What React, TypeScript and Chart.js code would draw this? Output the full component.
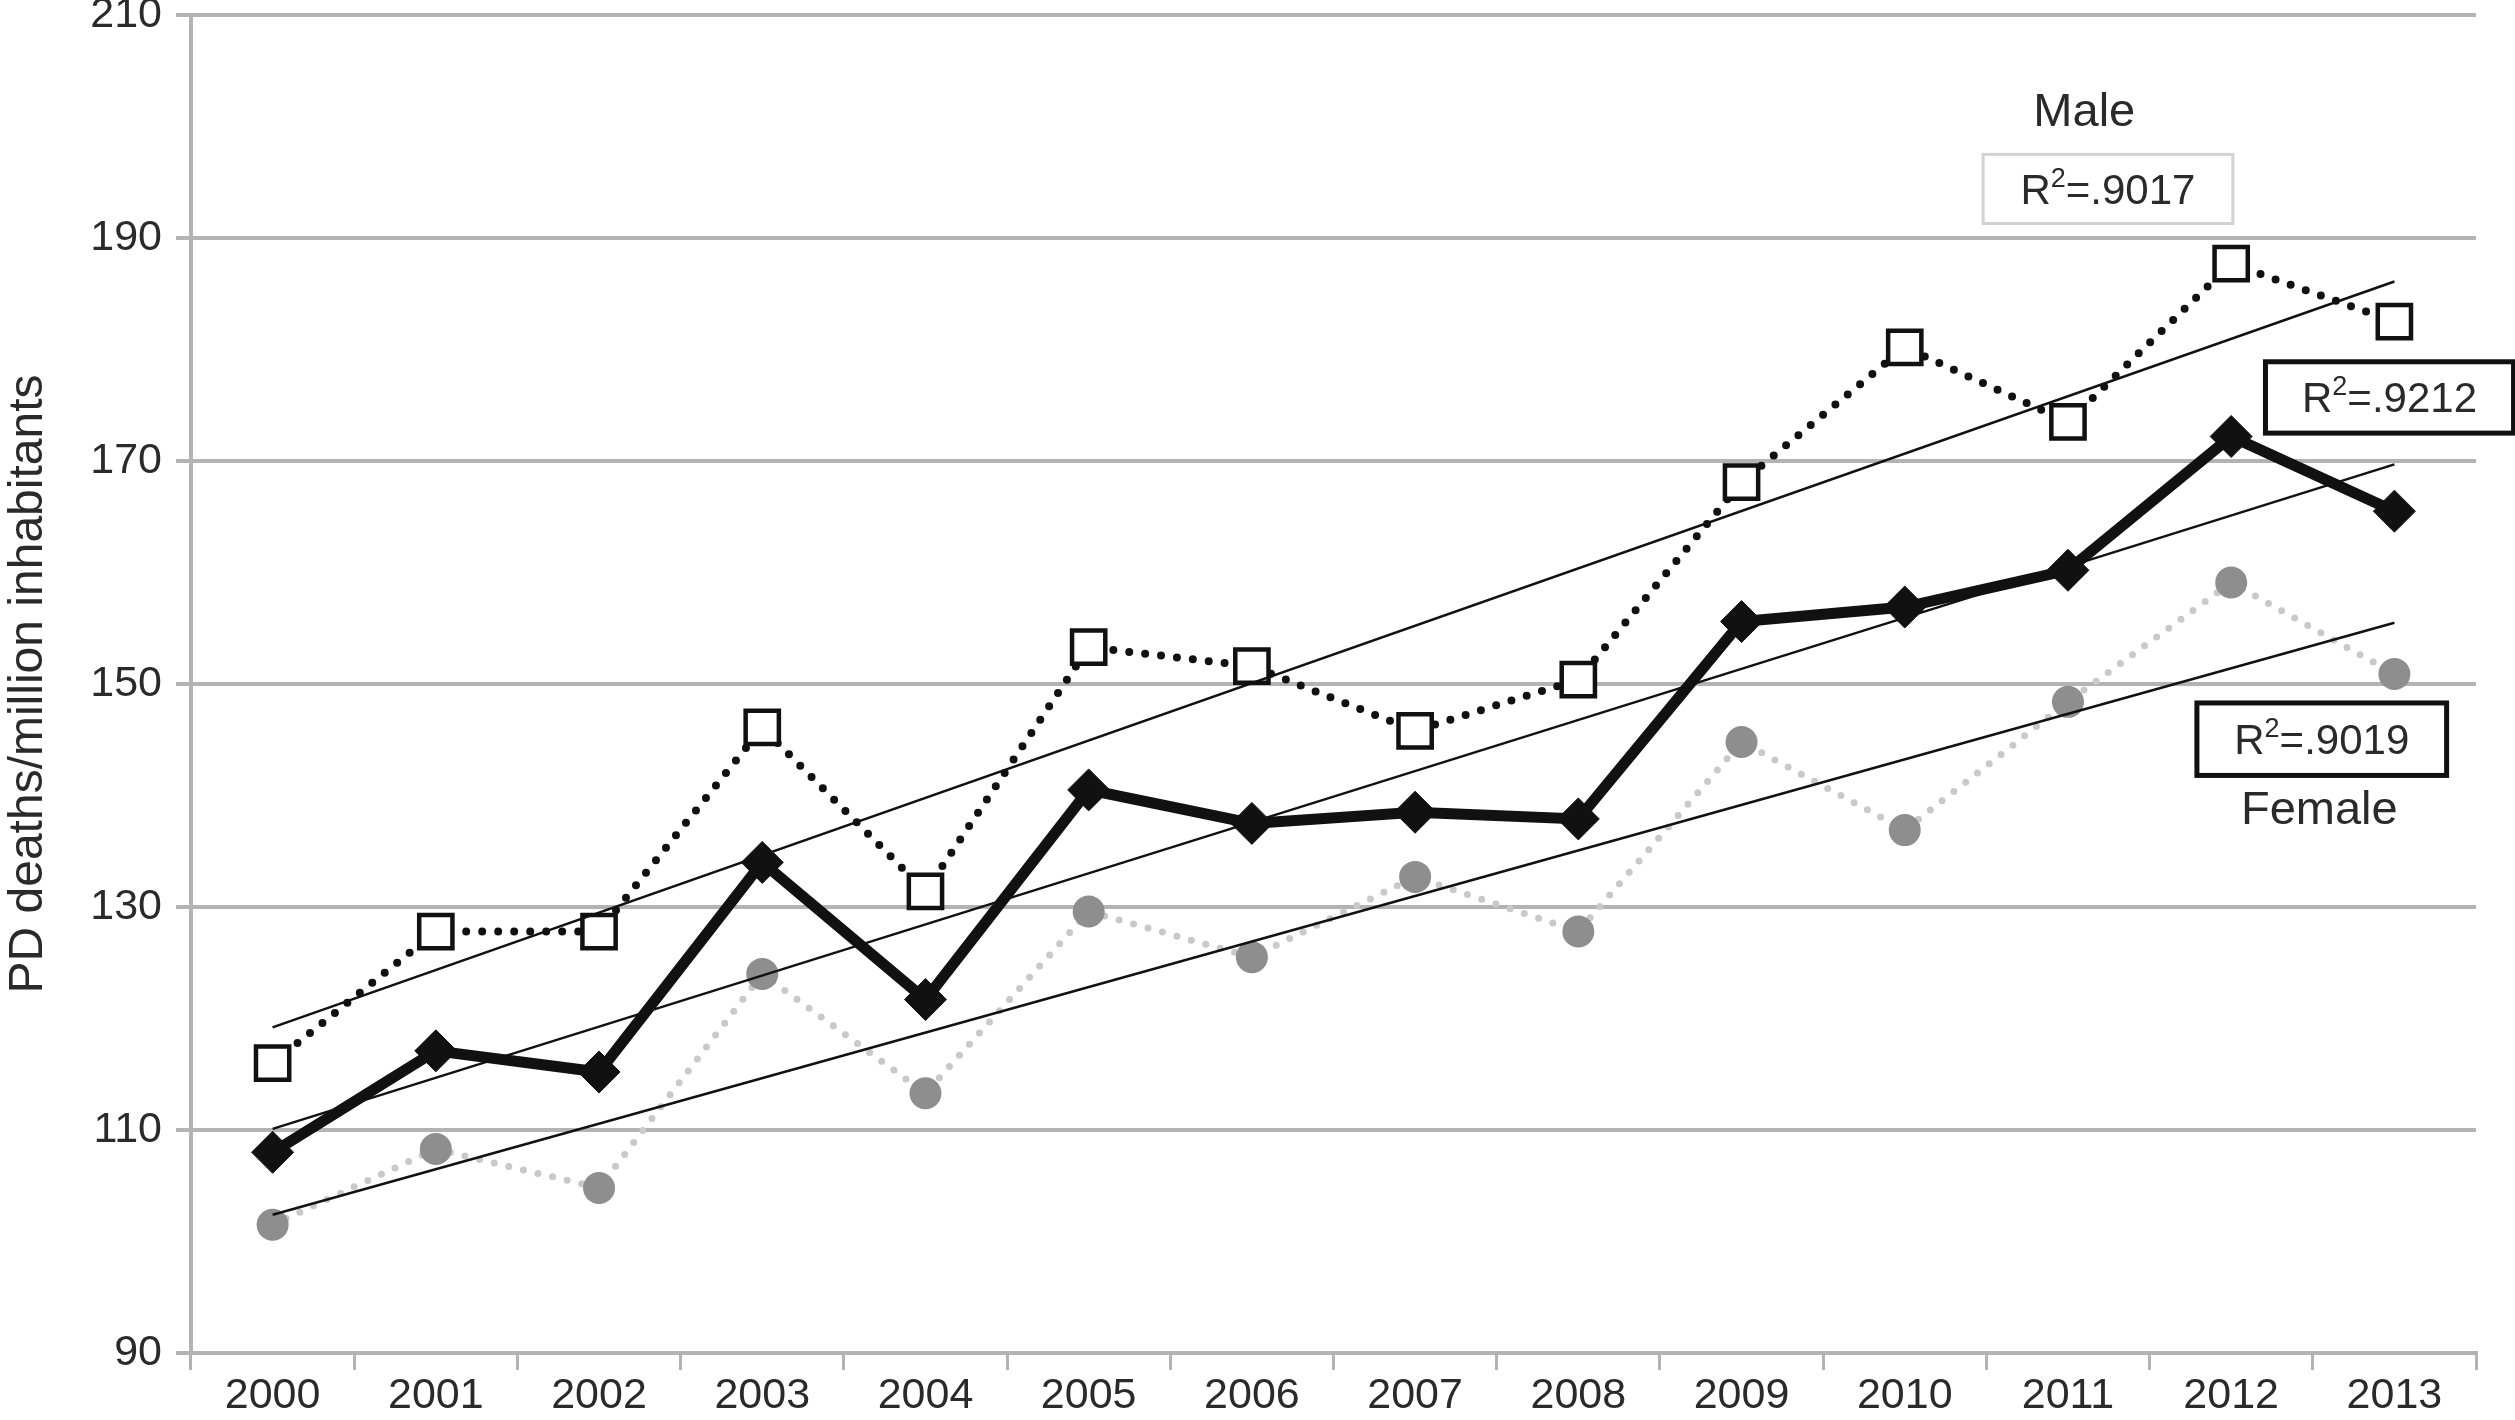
import React, { useEffect, useRef } from "react";
import { Chart, registerables } from "chart.js";

Chart.register(...registerables);

const years = ["2000", "2001", "2002", "2003", "2004", "2005", "2006", "2007", "2008", "2009", "2010", "2011", "2012", "2013"];
const maleValues = [116, 127.8, 127.8, 146.1, 131.4, 153.3, 151.6, 145.8, 150.4, 168.1, 180.2, 173.5, 187.7, 182.5];
const totalValues = [108, 117.1, 115.2, 134, 121.7, 140.5, 137.5, 138.5, 137.9, 155.6, 156.9, 160.2, 172.2, 165.5];
const femaleValues = [101.5, 108.3, 104.8, 124, 113.3, 129.6, 125.5, 132.7, 127.8, 144.8, 136.9, 148.4, 159.1, 150.9];
const maleTrendEnds = [119.2, 186.1];
const totalTrendEnds = [110.1, 169.7];
const femaleTrendEnds = [102.4, 155.5];
const yMin = 90;
const yMax = 210;
const yStep = 20;
const yTitle = "PD deaths/million inhabitants";
const seriesLabels = ["Male", "Female"];
const r2Values = [".9017", ".9212", ".9019"];

const FONT = "'Liberation Sans', Arial, Helvetica, sans-serif";
const TEXT = "#2a2a2a";
const GRID = "#b3b3b3";

const trend = (ends: number[]) =>
  years.map((_, i) => (i === 0 ? ends[0] : i === years.length - 1 ? ends[1] : null));

// annotation placement in data units (category index, value)
const labelPos = [
  { text: seriesLabels[0], x: 11.1, y: 201.2 },
  { text: seriesLabels[1], x: 12.54, y: 138.6 },
];
const boxPos = [
  { r2: r2Values[0], x0: 10.48, x1: 12.01, y0: 197.5, y1: 191.3, border: "#d2d2d2", bw: 3 },
  { r2: r2Values[1], x0: 12.21, x1: 13.73, y0: 178.9, y1: 172.5, border: "#111111", bw: 5 },
  { r2: r2Values[2], x0: 11.79, x1: 13.32, y0: 148.3, y1: 141.8, border: "#111111", bw: 5 },
];

const annotationPlugin = {
  id: "annotations",
  afterDatasetsDraw(chart: any) {
    const ctx = chart.ctx;
    const xs = chart.scales.x;
    const ys = chart.scales.y;
    ctx.save();
    ctx.fillStyle = TEXT;
    ctx.font = `47px ${FONT}`;
    ctx.textAlign = "center";
    ctx.textBaseline = "middle";
    for (const l of labelPos) {
      ctx.fillText(l.text, xs.getPixelForValue(l.x), ys.getPixelForValue(l.y));
    }
    for (const b of boxPos) {
      const px0 = xs.getPixelForValue(b.x0);
      const px1 = xs.getPixelForValue(b.x1);
      const py0 = ys.getPixelForValue(b.y0);
      const py1 = ys.getPixelForValue(b.y1);
      ctx.fillStyle = "#ffffff";
      ctx.fillRect(px0, py0, px1 - px0, py1 - py0);
      ctx.strokeStyle = b.border;
      ctx.lineWidth = b.bw;
      ctx.strokeRect(px0, py0, px1 - px0, py1 - py0);
      const cx = (px0 + px1) / 2;
      const cy = (py0 + py1) / 2;
      const mainFont = `42px ${FONT}`;
      const supFont = `27px ${FONT}`;
      ctx.font = mainFont;
      const wR = ctx.measureText("R").width;
      const wRest = ctx.measureText("=" + b.r2).width;
      ctx.font = supFont;
      const wSup = ctx.measureText("2").width;
      const total = wR + wSup + wRest;
      let x = cx - total / 2;
      const baseY = cy + 15;
      ctx.fillStyle = TEXT;
      ctx.textAlign = "left";
      ctx.textBaseline = "alphabetic";
      ctx.font = mainFont;
      ctx.fillText("R", x, baseY);
      x += wR;
      ctx.font = supFont;
      ctx.fillText("2", x, baseY - 17);
      x += wSup;
      ctx.font = mainFont;
      ctx.fillText("=" + b.r2, x, baseY);
    }
    ctx.restore();
  },
};

export default function App() {
  const canvasRef = useRef<HTMLCanvasElement | null>(null);

  useEffect(() => {
    document.body.style.margin = "0";
    document.body.style.overflow = "hidden";
    const canvas = canvasRef.current;
    if (!canvas) return;
    const chart = new Chart(canvas, {
      type: "line",
      data: {
        labels: years,
        datasets: [
          {
            label: "Male trend",
            data: trend(maleTrendEnds),
            borderColor: "#111111",
            borderWidth: 2.5,
            pointRadius: 0,
            spanGaps: true,
            order: 0,
          },
          {
            label: "Total trend",
            data: trend(totalTrendEnds),
            borderColor: "#111111",
            borderWidth: 2.5,
            pointRadius: 0,
            spanGaps: true,
            order: 0,
          },
          {
            label: "Female trend",
            data: trend(femaleTrendEnds),
            borderColor: "#111111",
            borderWidth: 2.5,
            pointRadius: 0,
            spanGaps: true,
            order: 0,
          },
          {
            label: "Total",
            data: totalValues,
            borderColor: "#111111",
            borderWidth: 11,
            borderJoinStyle: "miter",
            pointStyle: "rectRot",
            pointRadius: 21,
            pointBackgroundColor: "#111111",
            pointBorderColor: "#111111",
            pointBorderWidth: 1,
            order: 1,
          },
          {
            label: "Male",
            data: maleValues,
            borderColor: "#111111",
            borderWidth: 8,
            borderDash: [0, 16],
            borderCapStyle: "round",
            pointStyle: "rect",
            pointRadius: 23.5,
            pointBackgroundColor: "#ffffff",
            pointBorderColor: "#111111",
            pointBorderWidth: 4.5,
            order: 2,
          },
          {
            label: "Female",
            data: femaleValues,
            borderColor: "#c9c9c9",
            borderWidth: 7,
            borderDash: [0, 15],
            borderCapStyle: "round",
            pointStyle: "circle",
            pointRadius: 16,
            pointBackgroundColor: "#8e8e8e",
            pointBorderColor: "#8e8e8e",
            pointBorderWidth: 0,
            order: 3,
          },
        ],
      },
      options: {
        animation: false,
        responsive: true,
        maintainAspectRatio: false,
        layout: { autoPadding: false, padding: { top: 15, right: 39, bottom: 0, left: 0 } },
        plugins: {
          legend: { display: false },
          tooltip: { enabled: false },
          title: { display: false },
        },
        elements: { line: { tension: 0 } },
        scales: {
          x: {
            type: "category",
            offset: true,
            grid: {
              offset: true,
              drawOnChartArea: false,
              drawTicks: true,
              tickLength: 17,
              color: GRID,
              lineWidth: 3,
            },
            border: { display: true, color: GRID, width: 4 },
            ticks: {
              color: TEXT,
              font: { family: FONT, size: 43 },
              padding: 0,
              maxRotation: 0,
              autoSkip: false,
            },
            afterFit: (s: any) => {
              s.height = 67;
            },
          },
          y: {
            min: yMin,
            max: yMax,
            grid: {
              color: GRID,
              lineWidth: 4,
              drawTicks: true,
              tickLength: 15,
            },
            border: { display: true, color: GRID, width: 4 },
            ticks: {
              stepSize: yStep,
              color: TEXT,
              font: { family: FONT, size: 43, lineHeight: 0.2 },
              padding: 14,
            },
            title: {
              display: true,
              text: yTitle,
              color: TEXT,
              font: { family: FONT, size: 48 },
              padding: { top: 0, bottom: 0 },
            },
            afterFit: (s: any) => {
              s.width = 191;
              s.paddingTop = 0;
              s.paddingBottom = 0;
            },
          },
        },
      },
      plugins: [annotationPlugin],
    } as any);
    return () => {
      chart.destroy();
    };
  }, []);

  return (
    <div style={{ width: "2515px", height: "1420px", position: "relative" }}>
      <canvas ref={canvasRef} style={{ display: "block" }} />
    </div>
  );
}
